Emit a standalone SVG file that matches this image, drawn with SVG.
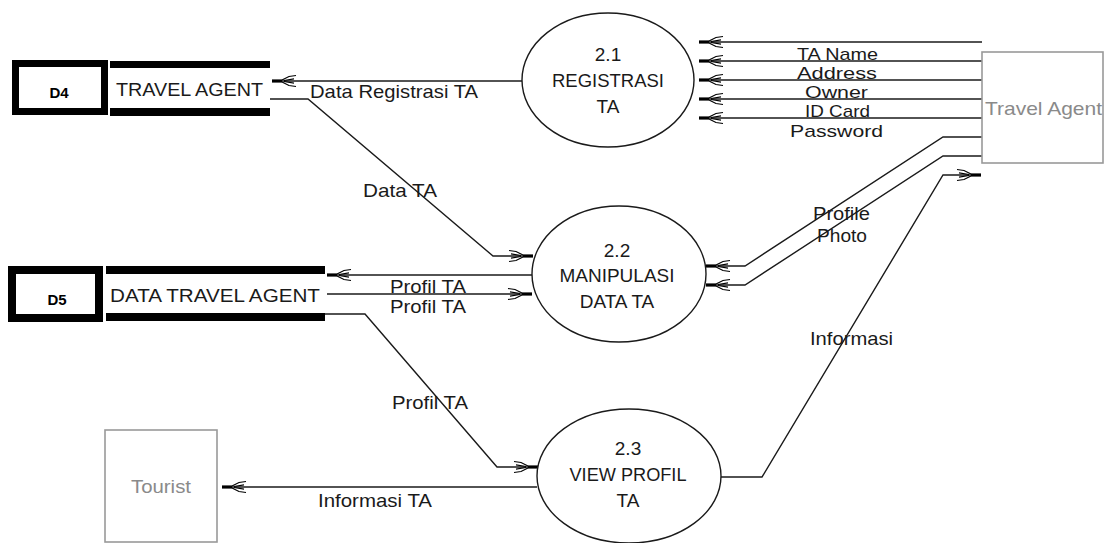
<svg xmlns="http://www.w3.org/2000/svg" width="1106" height="543" viewBox="0 0 1106 543">
<style>
.lbl{font-family:"Liberation Sans",Arial,sans-serif;font-size:19px;fill:#1a1a1a}
.sm{font-size:18px}
.xs{font-size:17px}
.mid{text-anchor:middle}
.gray{fill:#8a8a8a}
.store{font-family:"Liberation Sans",Arial,sans-serif;font-size:15px;font-weight:bold;fill:#000;text-anchor:middle}
.flow{fill:none;stroke:#1a1a1a;stroke-width:1.4;marker-end:url(#ah)}
.proc{fill:#fff;stroke:#1a1a1a;stroke-width:1.4}
.ext{fill:#fff;stroke:#999;stroke-width:1.6}
.bar{fill:#000}
</style>
<defs>
<marker id="ah" markerUnits="userSpaceOnUse" orient="auto" markerWidth="30" markerHeight="16" refX="28" refY="8" viewBox="0 0 30 16" overflow="visible">
<rect x="18" y="6.4" width="10" height="3.2" fill="#000"/>
<path d="M18,7 L11,3.5 L4,2.5 M18,9 L11,12.5 L4,13.5 M16,7.5 L6,5.8 M16,8.5 L6,10.2" fill="none" stroke="#000" stroke-width="1.2"/>
</marker>
</defs>
<rect width="1106" height="543" fill="#fff"/>

<g id="connectors">
<path class="flow" d="M982,42 L699,42"/>
<path class="flow" d="M982,61 L699,61"/>
<path class="flow" d="M982,80 L699,80"/>
<path class="flow" d="M982,99 L699,99"/>
<path class="flow" d="M982,118 L699,118"/>
<path class="flow" d="M522,81 L272,81"/>
<path class="flow" d="M270,99 L308,99 L493,256 L533,256"/>
<path class="flow" d="M532,275 L327,275"/>
<path class="flow" d="M327,294 L532,294"/>
<path class="flow" d="M325,314 L365,314 L497,467 L538,467"/>
<path class="flow" d="M537,487 L222,487"/>
<path class="flow" d="M982,137 L943,137 L745,266 L706,266"/>
<path class="flow" d="M982,156 L943,156 L745,285 L706,285"/>
<path class="flow" d="M721,477 L762,477 L943,175 L981,175"/>
</g>

<g id="D4">
<rect x="15.5" y="63.5" width="89" height="48" fill="#fff" stroke="#000" stroke-width="7"/>
<text class="store" x="59" y="98">D4</text>
<rect class="bar" x="110" y="61" width="160" height="7"/>
<rect class="bar" x="110" y="108" width="160" height="8"/>
<text class="lbl" x="116" y="96" textLength="147" lengthAdjust="spacingAndGlyphs">TRAVEL AGENT</text>
</g>

<g id="D5">
<rect x="12" y="270" width="87" height="48" fill="#fff" stroke="#000" stroke-width="8"/>
<text class="store" x="57" y="305">D5</text>
<rect class="bar" x="106" y="266" width="219" height="8"/>
<rect class="bar" x="106" y="313" width="219" height="8"/>
<text class="lbl" x="110" y="302" textLength="210" lengthAdjust="spacingAndGlyphs">DATA TRAVEL AGENT</text>
</g>

<g id="p21">
<ellipse class="proc" cx="608" cy="80" rx="86" ry="67"/>
<text class="lbl mid" x="608" y="61">2.1</text>
<text class="lbl mid" x="608" y="87" textLength="112" lengthAdjust="spacingAndGlyphs">REGISTRASI</text>
<text class="lbl mid" x="608" y="113">TA</text>
</g>

<g id="p22">
<ellipse class="proc" cx="619" cy="274" rx="87" ry="68"/>
<text class="lbl mid" x="617" y="257">2.2</text>
<text class="lbl mid" x="617" y="282" textLength="115" lengthAdjust="spacingAndGlyphs">MANIPULASI</text>
<text class="lbl mid" x="617" y="308">DATA TA</text>
</g>

<g id="p23">
<ellipse class="proc" cx="629" cy="476" rx="92" ry="67"/>
<text class="lbl mid" x="628" y="455">2.3</text>
<text class="lbl mid" x="628" y="481" textLength="117" lengthAdjust="spacingAndGlyphs">VIEW PROFIL</text>
<text class="lbl mid" x="628" y="507">TA</text>
</g>

<g id="travelAgent">
<rect class="ext" x="982" y="52" width="121" height="111"/>
<text class="lbl gray" x="985" y="115" textLength="117" lengthAdjust="spacingAndGlyphs">Travel Agent</text>
</g>

<g id="tourist">
<rect class="ext" x="105" y="430" width="112" height="112"/>
<text class="lbl gray" x="131" y="493" textLength="60" lengthAdjust="spacingAndGlyphs">Tourist</text>
</g>

<g id="labels">
<text class="lbl xs" x="797" y="60" textLength="81" lengthAdjust="spacingAndGlyphs">TA Name</text>
<text class="lbl xs" x="797" y="79" textLength="80" lengthAdjust="spacingAndGlyphs">Address</text>
<text class="lbl xs" x="805" y="98" textLength="63" lengthAdjust="spacingAndGlyphs">Owner</text>
<text class="lbl xs" x="805" y="117" textLength="65" lengthAdjust="spacingAndGlyphs">ID Card</text>
<text class="lbl xs" x="790" y="137" textLength="93" lengthAdjust="spacingAndGlyphs">Password</text>
<text class="lbl" x="310" y="98" textLength="168" lengthAdjust="spacingAndGlyphs">Data Registrasi TA</text>
<text class="lbl" x="363" y="197" textLength="74" lengthAdjust="spacingAndGlyphs">Data TA</text>
<text class="lbl" x="390" y="293" textLength="76" lengthAdjust="spacingAndGlyphs">Profil TA</text>
<text class="lbl" x="390" y="313" textLength="76" lengthAdjust="spacingAndGlyphs">Profil TA</text>
<text class="lbl" x="392" y="409" textLength="76" lengthAdjust="spacingAndGlyphs">Profil TA</text>
<text class="lbl" x="318" y="507" textLength="114" lengthAdjust="spacingAndGlyphs">Informasi TA</text>
<text class="lbl sm" x="813" y="220" textLength="57" lengthAdjust="spacingAndGlyphs">Profile</text>
<text class="lbl sm" x="817" y="242" textLength="50" lengthAdjust="spacingAndGlyphs">Photo</text>
<text class="lbl" x="810" y="345" textLength="83" lengthAdjust="spacingAndGlyphs">Informasi</text>
</g>
</svg>
